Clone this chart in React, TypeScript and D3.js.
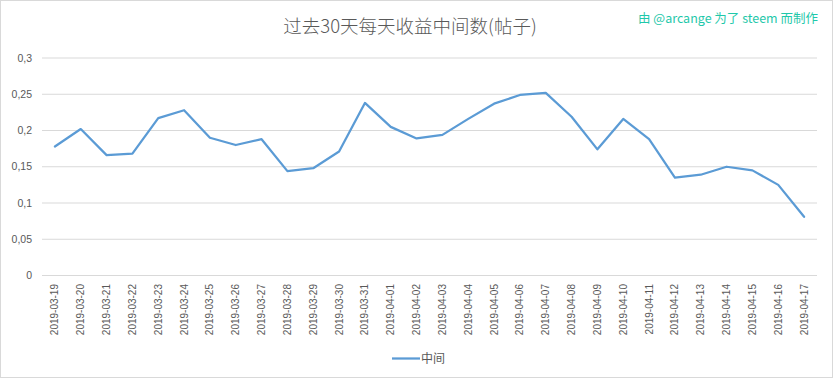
import React from "react";
import * as d3 from "d3";

const dates = [
  "2019-03-19","2019-03-20","2019-03-21","2019-03-22","2019-03-23","2019-03-24","2019-03-25","2019-03-26","2019-03-27","2019-03-28",
  "2019-03-29","2019-03-30","2019-03-31","2019-04-01","2019-04-02","2019-04-03","2019-04-04","2019-04-05","2019-04-06","2019-04-07",
  "2019-04-08","2019-04-09","2019-04-10","2019-04-11","2019-04-12","2019-04-13","2019-04-14","2019-04-15","2019-04-16","2019-04-17",
];
const medianValues = [
  0.178, 0.202, 0.166, 0.168, 0.217, 0.228, 0.190, 0.180, 0.188, 0.144,
  0.148, 0.171, 0.238, 0.205, 0.189, 0.194, 0.216, 0.237, 0.249, 0.252,
  0.219, 0.174, 0.216, 0.188, 0.135, 0.139, 0.150, 0.145, 0.125, 0.081,
];
const yTicks = [0, 0.05, 0.1, 0.15, 0.2, 0.25, 0.3];
const title = "过去30天每天收益中间数(帖子)";
const watermark = "由 @arcange 为了 steem 而制作";
const seriesName = "中间";

const W = 833, H = 378;
const left = 42, right = 817, top = 58, bottom = 275.5;

export default function App() {
  const x = d3.scaleBand<string>().domain(dates).range([left, right]);
  const y = d3.scaleLinear().domain([0, 0.3]).range([bottom, top]);
  const line = d3.line<number>()
    .x((_, i) => (x(dates[i]) as number) + x.bandwidth() / 2)
    .y((d) => y(d));
  const fmt = (v: number) => String(+v.toFixed(2)).replace(".", ",");
  const font = "'Liberation Sans', Arial, sans-serif";
  const cjk = "'Noto Sans CJK SC', sans-serif";
  return (
    <svg width={W} height={H} style={{ position: "absolute", left: 0, top: 0 }}>
      <rect x={0.5} y={0.5} width={W - 1} height={H - 1} fill="#fff" stroke="#d9d9d9" />
      <text x={410} y={33} textAnchor="middle" fontFamily={cjk} fontWeight={300} fontSize={18.5} fill="#595959">{title}</text>
      <text x={818} y={23} textAnchor="end" fontFamily={cjk} fontSize={12.5} fill="#1fc8aa">{watermark}</text>
      {yTicks.map((t) => (
        <g key={t}>
          <line x1={left} x2={right} y1={y(t)} y2={y(t)} stroke="#d9d9d9" strokeWidth={1} />
          <text x={32} y={y(t) + 3.5} textAnchor="end" fontFamily={font} fontSize={10.5} fill="#595959">{fmt(t)}</text>
        </g>
      ))}
      {dates.map((d) => {
        const cx = (x(d) as number) + x.bandwidth() / 2;
        return (
          <text key={d} transform={`translate(${cx + 3.5},284) rotate(-90)`} textAnchor="end" fontFamily={font} fontSize={10} fill="#595959">{d}</text>
        );
      })}
      <path d={line(medianValues) || ""} fill="none" stroke="#5b9bd5" strokeWidth={2.25} strokeLinejoin="round" strokeLinecap="round" />
      <line x1={392} x2={420} y1={358.5} y2={358.5} stroke="#5b9bd5" strokeWidth={2.25} />
      <text x={421} y={363} fontFamily={cjk} fontSize={12} fill="#595959">{seriesName}</text>
    </svg>
  );
}
